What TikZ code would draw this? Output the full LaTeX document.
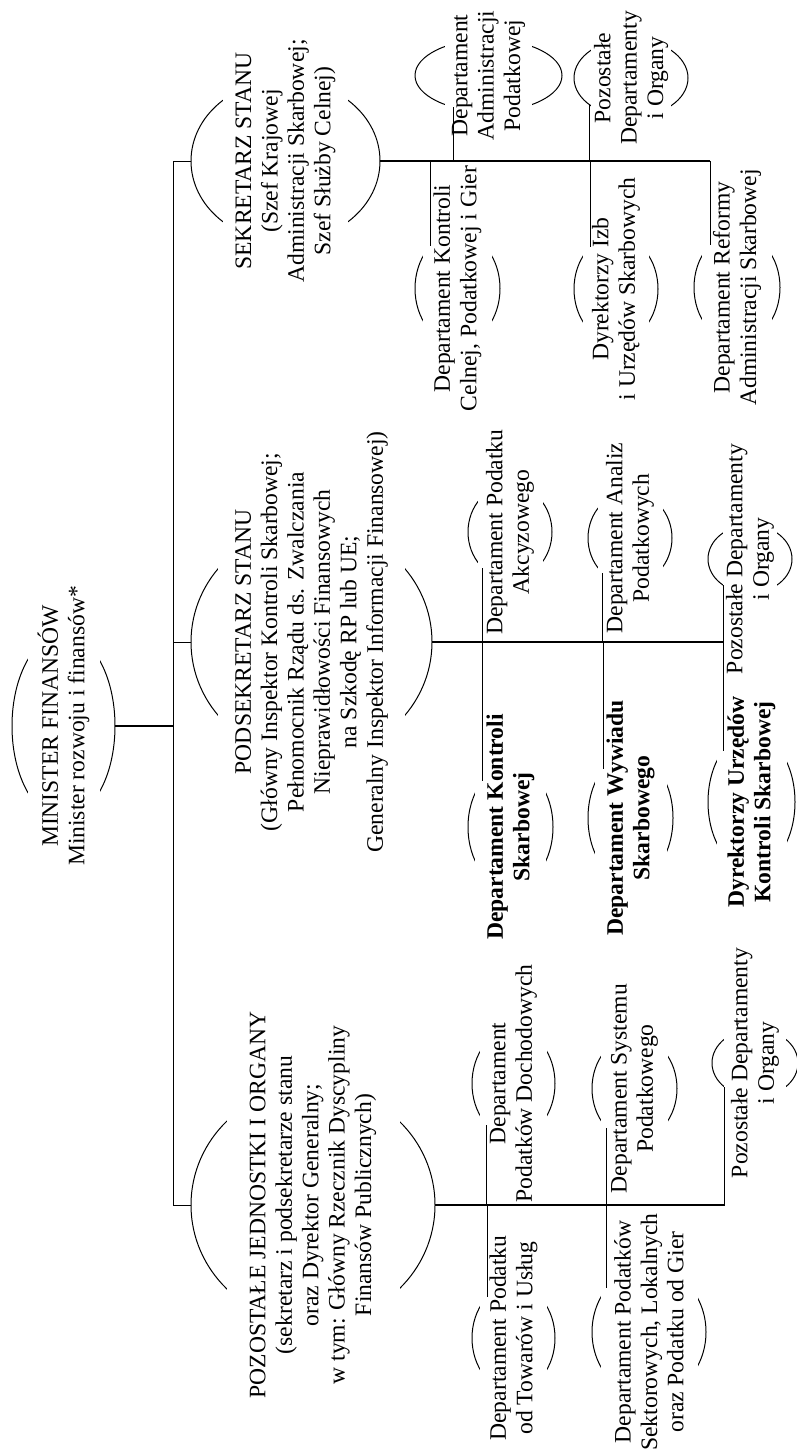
\documentclass[tikz,border=0pt]{standalone}
\usepackage{fontspec}
\setmainfont{Liberation Serif}
\usetikzlibrary{shapes.geometric}

\begin{document}
\begin{tikzpicture}[x=0.5pt,y=-0.5pt,
    oval/.style 2 args={ellipse, draw, line width=0.5pt, inner sep=0pt, outer sep=0pt, minimum width=#1pt, minimum height=#2pt},
    unit/.style={rotate=90, fill=white, align=center, inner xsep=2pt, inner ysep=0pt, minimum height=#1pt, font=\fontsize{11.8pt}{13.2pt}\selectfont},
    unitb/.style={unit=#1, font=\fontsize{11.8pt}{13.2pt}\selectfont\bfseries},
    link/.style={line width=0.5pt},
    spine/.style={line width=0.9pt}]

    \useasboundingbox (0,0) rectangle (797,1450);

    \node[oval={51.5}{92}] (min) at (63.5,726) {};
    \node[unit=36] (min-t) at (min) {MINISTER FINANSÓW\\Minister rozwoju i finansów*};

    \node[oval={94.5}{81}] (sek) at (285.5,161) {};
    \node[unit=62.5] (sek-t) at (sek) {SEKRETARZ STANU\\(Szef Krajowej\\Administracji Skarbowej;\\Szef Służby Celnej)};

    \node[oval={120.5}{116}] (pod) at (311.5,642) {};
    \node[unit=93.5] (pod-t) at (pod) {PODSEKRETARZ STANU\\(Główny Inspektor Kontroli Skarbowej;\\Pełnomocnik Rządu ds. Zwalczania\\Nieprawidłowości Finansowych\\na Szkodę RP lub UE;\\Generalny Inspektor Informacji Finansowej)};

    \node[oval={122}{118.5}] (poz) at (313,1205) {};
    \node[unit=86.5] (poz-t) at (poz) {POZOSTAŁE JEDNOSTKI I ORGANY\\(sekretarz i podsekretarze stanu\\oraz Dyrektor Generalny;\\w tym: Główny Rzecznik Dyscypliny\\Finansów Publicznych)};

    \node[oval={42.5}{55}] (celna) at (457.5,288.5) {};
    \node[unit=34.5] (celna-t) at (celna) {Departament Kontroli\\Celnej, Podatkowej i Gier};

    \node[oval={73.5}{36}] (admpod) at (488.5,75.5) {};
    \node[unit=43.5] (admpod-t) at (admpod) {Departament\\Administracji\\Podatkowej};

    \node[oval={57}{39}] (pozs) at (631,78) {};
    \node[unit=40] (pozs-t) at (pozs) {Pozostałe\\Departamenty\\i Organy};

    \node[oval={42}{53}] (izby) at (616,289) {};
    \node[unit=33] (izby-t) at (izby) {Dyrektorzy Izb\\i Urzędów Skarbowych};

    \node[oval={43}{54.6}] (reforma) at (737,287.5) {};
    \node[unit=35] (reforma-t) at (reforma) {Departament Reformy\\Administracji Skarbowej};

    \node[oval={42}{47}] (akcyza) at (510,532) {};
    \node[unit=32.5] (akcyza-t) at (akcyza) {Departament Podatku\\Akcyzowego};

    \node[oval={42.5}{61}] (kontrola) at (510.5,827) {};
    \node[unitb=35.5] (kontrola-t) at (kontrola) {Departament Kontroli\\Skarbowej};

    \node[oval={42}{46}] (analizy) at (630,538) {};
    \node[unit=32.5] (analizy-t) at (analizy) {Departament Analiz\\Podatkowych};

    \node[oval={42.5}{64}] (wywiad) at (630.5,818) {};
    \node[unitb=36] (wywiad-t) at (wywiad) {Departament Wywiadu\\Skarbowego};

    \node[oval={42}{34}] (pozp) at (750,559) {};
    \node[unit=27] (pozp-t) at (pozp) {Pozostałe Departamenty\\i Organy};

    \node[oval={43.5}{68}] (urzedy) at (751.5,802) {};
    \node[unitb=35] (urzedy-t) at (urzedy) {Dyrektorzy Urzędów\\Kontroli Skarbowej};

    \node[oval={41.5}{54}] (dochody) at (513.5,1083.5) {};
    \node[unit=33.5] (dochody-t) at (dochody) {Departament\\Podatków Dochodowych};

    \node[oval={41.5}{53}] (towary) at (513.5,1338) {};
    \node[unit=33.5] (towary-t) at (towary) {Departament Podatku\\od Towarów i Usług};

    \node[oval={42.5}{52}] (system) at (634.5,1088.5) {};
    \node[unit=33.5] (system-t) at (system) {Departament Systemu\\Podatkowego};

    \node[oval={57}{65}] (sektor) at (649,1332) {};
    \node[unit=48.5] (sektor-t) at (sektor) {Departament Podatków\\Sektorowych, Lokalnych\\oraz Podatku od Gier};

    \node[oval={43}{34}] (pozj) at (755,1063) {};
    \node[unit=31] (pozj-t) at (pozj) {Pozostałe Departamenty\\i Organy};

    \coordinate (trunk) at (173,0);

    \draw[spine] (min.east) -- (min.east -| trunk);
    \draw[link] (sek.west) -- (sek.west -| trunk) -- (poz.west -| trunk) -- (poz.west);
    \draw[link] (pod.west) -- (pod.west -| trunk);

    \draw[spine] (sek.east) -- (reforma.122 |- sek.east);
    \draw[link] (celna.123 |- sek.east) -- (celna.123);
    \draw[link] (admpod.222 |- sek.east) -- (admpod.222);
    \draw[link] (pozs.213 |- sek.east) -- (pozs.213);
    \draw[link] (izby.122 |- sek.east) -- (izby.122);
    \draw[link] (reforma.122 |- sek.east) -- (reforma.122);

    \draw[spine] (pod.east) -- (pozp.224 |- pod.east);
    \draw[link] (akcyza.233 |- pod.east) -- (akcyza.233);
    \draw[link] (kontrola.121 |- pod.east) -- (kontrola.121);
    \draw[link] (analizy.232 |- pod.east) -- (analizy.232);
    \draw[link] (wywiad.119 |- pod.east) -- (wywiad.119);
    \draw[link] (pozp.224 |- pod.east) -- (pozp.224);
    \draw[link] (urzedy.119 |- pod.east) -- (urzedy.119);

    \draw[spine] (poz.east) -- (pozj.219 |- poz.east);
    \draw[link] (dochody.237 |- poz.east) -- (dochody.237);
    \draw[link] (towary.123 |- poz.east) -- (towary.123);
    \draw[link] (system.235 |- poz.east) -- (system.235);
    \draw[link] (sektor.134 |- poz.east) -- (sektor.134);
    \draw[link] (pozj.219 |- poz.east) -- (pozj.219);
\end{tikzpicture}
\end{document}
